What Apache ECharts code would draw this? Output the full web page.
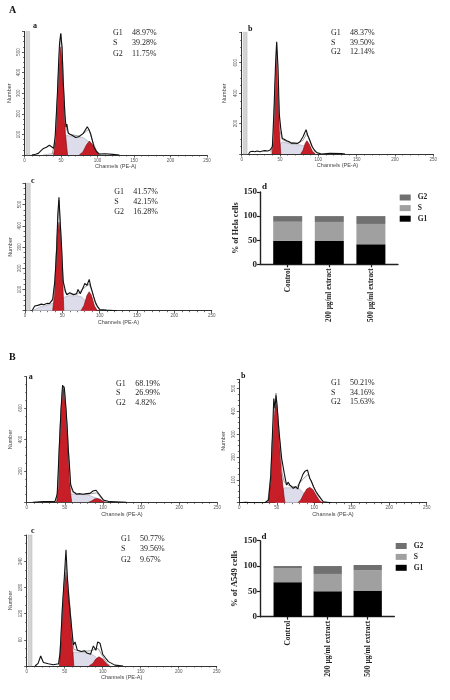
<!DOCTYPE html>
<html><head><meta charset="utf-8">
<style>html,body{margin:0;padding:0;background:#fff}#c{width:450px;height:700px;filter:blur(0.35px)}</style>
<script src="https://cdn.jsdelivr.net/npm/echarts@6/dist/echarts.min.js"></script>
</head><body><div id="c"></div>
<script>
// ---- histogram data: [channel, count] ----
const envAa=[[10,0],[15,4],[19,8],[23,22],[26,32],[30,38],[34,47],[37,40],[40,32],[42,90],[45,290],[47,470],[48,540],[49.6,590],[51.4,524],[53,360],[55.5,190],[57,135],[58,150],[60,105],[63,100],[67,92],[70,85],[74,89],[77,95],[80.5,105],[83,112],[86,137],[88,125],[90.5,105],[93,70],[95,40],[99,15],[102,5],[110,6],[121,3],[130,0]];
const fitAa=[[38,5],[42,70],[45,280],[47,440],[49,560],[50,590],[51.4,520],[54,290],[56,150],[58,120],[62,100],[75,92],[83,110],[88,125],[93,70],[98,25],[103,0]];
const g1Aa=[[40,0],[43,105],[45,266],[47,427],[49.6,525],[52,427],[54,266],[56,105],[59,0]];
const sAa=[[25,0],[40,8],[50,50],[57,95],[70,88],[80,85],[90,60],[100,15],[105,0]];
const g2Aa=[[75,0],[80,15],[85,50],[89,68],[93,50],[98,18],[102,0]];

const envAb=[[9,0],[11,15],[14,18],[17,15],[20,20],[24,15],[27,20],[30,22],[34,20],[37,26],[40,48],[42,270],[44,568],[45.6,738],[47.4,568],[49,265],[51,167],[53,102],[56,95],[58.7,87],[62,80],[65,70],[68,72],[70,65],[73,70],[76,80],[80,113],[82,125],[84,160],[86,125],[88,102],[92,48],[95,25],[98,9],[104,0],[115,4],[130,3],[135,0]];
const fitAb=[[38,10],[41,80],[43,360],[45.6,730],[48,380],[50,150],[53,95],[60,80],[72,68],[80,90],[85,135],[90,70],[96,10]];
const g1Ab=[[39.5,0],[41.5,120],[43,350],[45.5,670],[48,350],[49.5,120],[51,0]];
const sAb=[[40,5],[50,60],[53,80],[65,65],[75,60],[85,50],[92,15],[96,0]];
const g2Ab=[[77,0],[80,25],[83,70],[85,87],[88,65],[92,20],[96,0]];

const envAc=[[10,3],[13,22],[17,25],[22,31],[25,28],[27,37],[30,35],[33,34],[37,53],[40,140],[42.4,290],[44,456],[45.5,534],[47,425],[49,300],[51,140],[54.4,89],[56,75],[58,73],[60,85],[62.4,89],[65,75],[67,84],[69,80],[71,100],[74,80],[76,89],[78,110],[80,128],[83,120],[86,147],[88,115],[89,112],[92,65],[94,42],[97,20],[100,6],[109,3],[123,0]];
const fitAc=[[30,28],[38,50],[41,200],[43,360],[45.5,520],[48,370],[50,210],[52,105],[55,80],[70,78],[80,110],[86,125],[90,90],[95,28],[100,3]];
const g1Ac=[[37,0],[39,60],[41,190],[43,347],[45.5,417],[48,347],[50,190],[52,0]];
const sAc=[[10,0],[20,18],[30,26],[40,38],[50,60],[58,70],[70,70],[76,65],[85,30],[92,5],[95,0]];
const g2Ac=[[75,0],[79,25],[83,72],[86,89],[89,72],[93,22],[97,0]];

const envBa=[[8,0],[22,4],[37,4],[40,50],[43,380],[45,590],[47,745],[49.4,728],[51.6,590],[53,490],[54.6,330],[56,240],[57.7,110],[61,68],[63,60],[65.5,51],[70,55],[74,51],[79,55],[83,57],[87,72],[91,77],[93,68],[95,51],[100.5,15],[109,4],[131,0]];
const fitBa=[[38,5],[41,90],[43,380],[45,590],[47,720],[49,740],[51,640],[53,470],[55,320],[57,130],[60,65],[70,50],[85,55],[92,60],[100,15],[105,2]];
const g1Ba=[[39,0],[41,80],[43,366],[45,579],[47,715],[48.5,728],[50,640],[51.6,579],[53,450],[54.6,300],[56,150],[58,40],[59,0]];
const sBa=[[40,3],[52,30],[57,55],[65,50],[80,48],[92,25],[100,8],[104,0]];
const g2Ba=[[81,0],[85,8],[89,21],[92,25],[96,20],[100,6],[103,0]];

const envBb=[[0,0],[8,2],[20,0],[34,0],[39,12],[42,120],[44,280],[46,456],[47.6,412],[49,470],[50.7,412],[53,310],[56.5,194],[60,128],[63,77],[65,90],[67.6,77],[70,85],[72,63],[75,70],[78,60],[80,85],[82,99],[85,125],[87.7,138],[91,143],[94,106],[96,95],[99,70],[102,50],[105.5,33],[112,4],[123,0]];
const fitBb=[[38,3],[42,120],[44,270],[46.7,420],[49,480],[51,400],[54,270],[57,130],[60,90],[66,75],[76,68],[84,100],[92,125],[98,78],[104,35],[112,3]];
const g1Bb=[[39,0],[42,106],[44,260],[46.7,400],[48,405],[50,430],[52,340],[54,252],[57,106],[60,20],[61,0]];
const sBb=[[48,5],[56,40],[60,65],[70,65],[80,62],[88,35],[95,8],[98,0]];
const g2Bb=[[78,0],[82,12],[86,38],[90,60],[94,67],[98,58],[103,30],[107,10],[111,0]];

const envBc=[[11,0],[15,6],[18.4,23],[22,8],[28.5,5],[35,3],[42,5],[44,30],[47,135],[49.5,204],[51.7,266],[53.5,204],[55.7,150],[59,90],[61.4,48],[63.6,55],[66.7,36],[69,38],[72,33],[76,35],[79,30],[84,27],[87.7,46],[91,36],[93.4,55],[96.5,52],[100,27],[103,20],[107.5,10],[116,2],[127,0]];
const fitBc=[[42,3],[45,60],[47,135],[49.5,195],[51.7,235],[54,190],[57,135],[60,65],[62,38],[72,33],[84,35],[94,40],[100,22],[106,6],[110,0]];
const g1Bc=[[43,0],[45,52],[47,128],[49.5,190],[51.7,215],[54,175],[57,128],[60,52],[62,0]];
const sBc=[[48,0],[55,12],[62,32],[72,31],[82,30],[90,22],[97,10],[102,2],[105,0]];
const g2Bc=[[82,0],[87,6],[91,16],[95,21],[100,16],[105,5],[109,0]];

// ---- stacked bars ----
const barCategories=['Control','200 µg/ml extract','500 µg/ml extract'];
const helaG1=[48.97,48.37,41.57], helaS=[39.28,39.5,42.15], helaG2=[11.75,12.14,16.28];
const a549G1=[68.19,50.21,51.5], a549S=[26.99,34.16,40.5], a549G2=[4.82,15.63,10];

// ---- printed percentages ----
const statsAa=['48.97%','39.28%','11.75%'], statsAb=['48.37%','39.50%','12.14%'], statsAc=['41.57%','42.15%','16.28%'];
const statsBa=['68.19%','26.99%','4.82%'], statsBb=['50.21%','34.16%','15.63%'], statsBc=['50.77%','39.56%','9.67%'];
const phaseNames=['G1','S','G2'];
const xMax=250, xStep=50;

// ---- layout (px) ----
const hist=[
 {env:envAa,fit:fitAa,g1:g1Aa,s:sAa,g2:g2Aa,stats:statsAa,x0:24.5,x1:207,y0:155,top:31.4,max:600,step:100,band:1,num:12,sx:113,vx:132,sy:[28.5,39,49.5],tag:'a',tx:33,ty:22},
 {env:envAb,fit:fitAb,g1:g1Ab,s:sAb,g2:g2Ab,stats:statsAb,x0:241.7,x1:433.3,y0:154,top:32.3,max:800,step:200,band:1,num:14,sx:331,vx:350,sy:[29,38.5,48],tag:'b',tx:248,ty:25},
 {env:envAc,fit:fitAc,g1:g1Ac,s:sAc,g2:g2Ac,stats:statsAc,x0:25,x1:211.7,y0:310.7,top:183.3,max:600,step:100,band:1,num:12,sx:114.3,vx:133.3,sy:[188,198,208],tag:'c',tx:31,ty:176.5},
 {env:envBa,fit:fitBa,g1:g1Ba,s:sBa,g2:g2Ba,stats:statsBa,x0:26.7,x1:217.3,y0:502.3,top:376.7,max:800,step:200,band:0,num:13,sx:116,vx:135.3,sy:[380,389.3,398.7],tag:'a',tx:28.7,ty:372.5},
 {env:envBb,fit:fitBb,g1:g1Bb,s:sBb,g2:g2Bb,stats:statsBb,x0:239.3,x1:426.7,y0:502.7,top:379.3,max:540,step:100,band:0,num:13,sx:331,vx:350,sy:[379.3,388.7,398.3],tag:'b',tx:241,ty:372},
 {env:envBc,fit:fitBc,g1:g1Bc,s:sBc,g2:g2Bc,stats:statsBc,x0:26.7,x1:216.7,y0:666,top:535,max:300,step:60,band:1,num:13.5,sx:121,vx:140,sy:[535.3,545.3,556],tag:'c',tx:31,ty:526.5}
];
const bars=[
 {title:'% of Hela cells',g1:helaG1,s:helaS,g2:helaG2,x0:260,x1:398,y0:264.3,top:192,c0:287.7,gap:41.6,w:29,nameFs:8,catFs:7.2,lx:399.7,ly:193.5,lg:2.6,tag:'d',tx:262,ty:182},
 {title:'% of A549 cells',g1:a549G1,s:a549S,g2:a549G2,x0:260,x1:394.3,y0:616.7,top:540.7,c0:287.7,gap:40,w:28.3,nameFs:8.5,catFs:7.5,lx:395.7,ly:542,lg:2.9,tag:'d',tx:261.5,ty:532}
];

const RED='#c4121c', LIL='#dcdcea', DARK='#333', SANS='"Liberation Sans",sans-serif', SERIF='"Liberation Serif",serif';
const grid=[],xAxis=[],yAxis=[],series=[],graphic=[],legend=[];
const txt=(x,y,s,extra)=>graphic.push({type:'text',left:x,top:y,silent:true,style:Object.assign({text:s,fontFamily:SERIF,fontSize:8,fill:'#222'},extra||{})});
txt(9,5,'A',{fontWeight:'bold',fontSize:10,fill:'#111'});
txt(9,352,'B',{fontWeight:'bold',fontSize:10,fill:'#111'});

hist.forEach((p,i)=>{
  grid.push({left:p.x0,top:p.top,width:p.x1-p.x0,height:p.y0-p.top});
  xAxis.push({type:'value',gridIndex:i,min:0,max:xMax,interval:xStep,name:'Channels (PE-A)',nameLocation:'middle',nameGap:8,
    nameTextStyle:{fontFamily:SANS,fontSize:5.5,color:'#444'},
    axisLine:{onZero:false,lineStyle:{color:DARK,width:1}},axisTick:{length:2.5,lineStyle:{color:DARK,width:.8}},
    minorTick:{show:true,splitNumber:5,length:1.5,lineStyle:{color:DARK,width:.7}},splitLine:{show:false},minorSplitLine:{show:false},
    axisLabel:{fontFamily:SANS,fontSize:4.5,color:'#555',margin:3}});
  yAxis.push({type:'value',gridIndex:i,min:0,max:p.max,interval:p.step,name:'Number',nameLocation:'middle',nameRotate:90,nameGap:p.num,
    nameTextStyle:{fontFamily:SANS,fontSize:5.5,color:'#444'},
    axisLine:{onZero:false,show:true,lineStyle:{color:DARK,width:1}},axisTick:{show:true,length:2.5,lineStyle:{color:DARK,width:.8}},
    minorTick:{show:true,splitNumber:p.step===60?3:4,length:1.5,lineStyle:{color:DARK,width:.7}},splitLine:{show:false},minorSplitLine:{show:false},
    axisLabel:{rotate:90,fontFamily:SANS,fontSize:4.5,color:'#555',margin:3,showMinLabel:false,showMaxLabel:false}});
  const area=(name,data,col,z)=>series.push({type:'line',name,xAxisIndex:i,yAxisIndex:i,data,symbol:'none',silent:true,z,
    lineStyle:{color:col===LIL?'#a8a8b8':'#6e0c10',width:.6},areaStyle:{color:col,opacity:col===RED?.95:1}});
  const env={type:'line',name:'Histogram',xAxisIndex:i,yAxisIndex:i,data:p.env,symbol:'none',silent:true,z:6,lineStyle:{color:'#111',width:1.1}};
  if(p.band) env.markArea={silent:true,itemStyle:{color:'#d4d4d4',borderColor:'#aaa',borderWidth:.4},data:[[{xAxis:2},{xAxis:7}]]};
  area('S fit',p.s,LIL,2); area('G1 fit',p.g1,RED,3); area('G2 fit',p.g2,RED,3);
  series.push({type:'line',name:'Sum fit',xAxisIndex:i,yAxisIndex:i,data:p.fit,symbol:'none',silent:true,z:5,lineStyle:{color:'#9c9c9c',width:1}});
  series.push(env);
  phaseNames.forEach((n,k)=>{txt(p.sx,p.sy[k],n);txt(p.vx,p.sy[k],p.stats[k]);});
  txt(p.tx,p.ty,p.tag,{fontWeight:'bold',fontSize:8,fill:'#111'});
});

bars.forEach((b,j)=>{
  const base=grid.length, inner=base+1;
  grid.push({left:b.x0,top:b.top,width:b.x1-b.x0,height:b.y0-b.top});
  xAxis.push({type:'value',gridIndex:base,min:0,max:1,splitLine:{show:false},axisLine:{onZero:false,lineStyle:{color:'#222',width:1.4}},axisTick:{show:false},axisLabel:{show:false}});
  yAxis.push({type:'value',gridIndex:base,min:0,max:150,interval:50,name:b.title,nameLocation:'middle',nameRotate:90,nameGap:20,
    nameTextStyle:{fontFamily:SERIF,fontWeight:'bold',fontSize:b.nameFs,color:'#222'},
    axisLine:{show:true,onZero:false,lineStyle:{color:'#222',width:1.4}},axisTick:{show:true,length:3,lineStyle:{color:'#222',width:1.2}},splitLine:{show:false},
    axisLabel:{fontFamily:SERIF,fontWeight:'bold',fontSize:9,color:'#222',margin:3}});
  grid.push({left:b.c0-b.gap/2,top:b.top,width:b.gap*3,height:b.y0-b.top});
  xAxis.push({type:'category',gridIndex:inner,data:barCategories,axisLine:{show:false},
    axisTick:{show:true,alignWithLabel:true,length:3,lineStyle:{color:'#222',width:1.2}},
    axisLabel:{interval:0,rotate:90,fontFamily:SERIF,fontWeight:'bold',fontSize:b.catFs,color:'#222',margin:4}});
  yAxis.push({type:'value',gridIndex:inner,min:0,max:150,show:false,splitLine:{show:false}});
  [['G1',b.g1,'#000000'],['S',b.s,'#a0a0a0'],['G2',b.g2,'#707070']].forEach(([n,d,c])=>{
    series.push({type:'bar',name:n,stack:'cells'+j,xAxisIndex:inner,yAxisIndex:inner,barWidth:b.w,data:d,itemStyle:{color:c}});
  });
  legend.push({orient:'vertical',left:b.lx,top:b.ly,itemWidth:11,itemHeight:6,itemGap:b.lg,icon:'rect',selectedMode:false,data:['G2','S','G1'],
    textStyle:{fontFamily:SERIF,fontWeight:'bold',fontSize:7.5,color:'#222',padding:[0,0,0,2]},padding:0});
  txt(b.tx,b.ty,b.tag,{fontWeight:'bold',fontSize:9,fill:'#111'});
});

const chart=echarts.init(document.getElementById('c'),null,{width:450,height:700});
chart.setOption({animation:false,backgroundColor:'#fff',grid,xAxis,yAxis,series,legend,graphic});
</script></body></html>
